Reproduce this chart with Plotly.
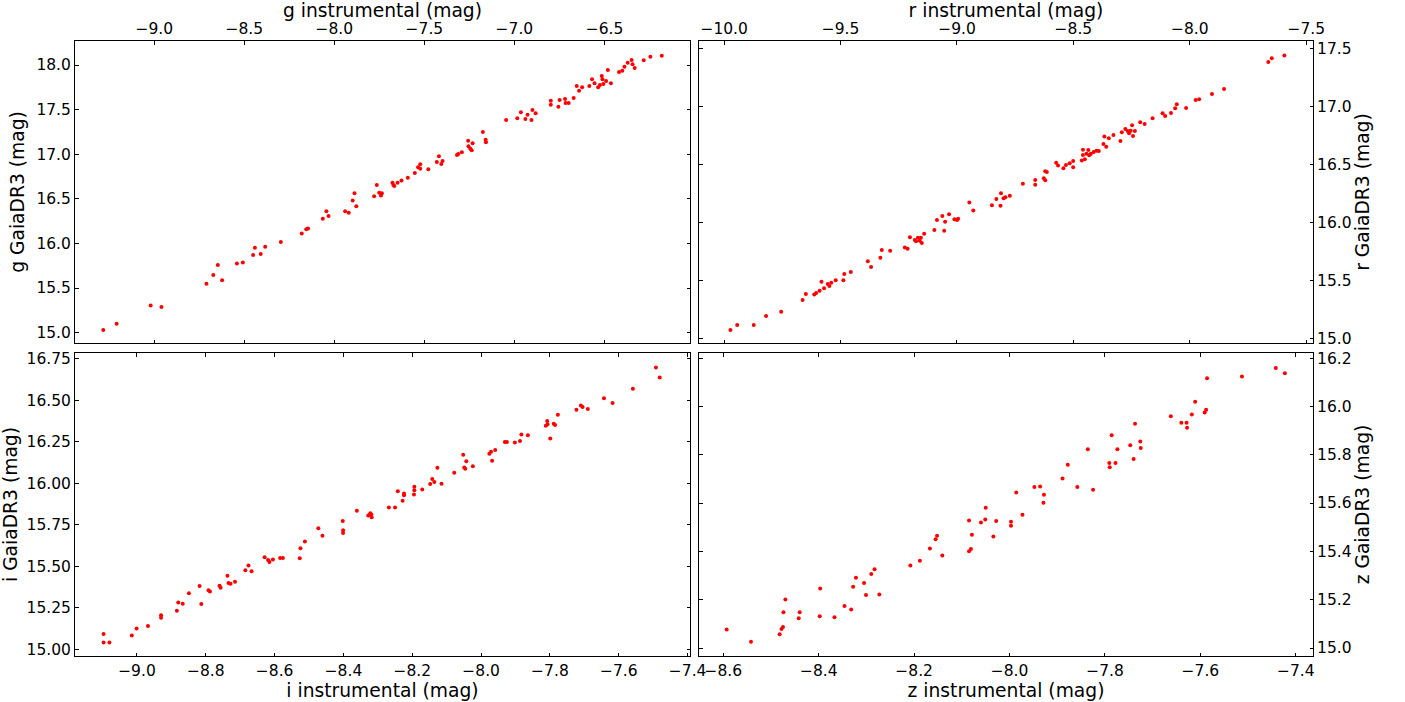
import plotly.graph_objects as go

# Photometric calibration: instrumental magnitudes vs Gaia DR3 synthetic magnitudes

g_inst = [-9.283, -9.209, -9.020, -8.960, -8.710, -8.672, -8.647, -8.623, -8.541, -8.508,
          -8.451, -8.441, -8.409, -8.384, -8.297, -8.181, -8.156, -8.146, -8.064, -8.044,
          -8.032, -7.940, -7.920, -7.898, -7.888, -7.878, -7.779, -7.764, -7.751, -7.741,
          -7.736, -7.677, -7.672, -7.667, -7.649, -7.627, -7.592, -7.553, -7.535, -7.523,
          -7.523, -7.478, -7.431, -7.419, -7.406, -7.399, -7.319, -7.312, -7.292, -7.257,
          -7.255, -7.245, -7.237, -7.232, -7.175, -7.160, -7.158, -7.046, -6.984, -6.964,
          -6.939, -6.927, -6.905, -6.900, -6.882, -6.798, -6.798, -6.756, -6.749, -6.719,
          -6.716, -6.699, -6.671, -6.654, -6.641, -6.624, -6.584, -6.569, -6.555, -6.535,
          -6.525, -6.515, -6.511, -6.506, -6.491, -6.481, -6.464, -6.419, -6.401, -6.389,
          -6.371, -6.349, -6.344, -6.332, -6.282, -6.245, -6.182]
g_gaia = [15.030, 15.101, 15.303, 15.288, 15.549, 15.647, 15.759, 15.587, 15.774, 15.785,
          15.871, 15.953, 15.882, 15.964, 16.016, 16.110, 16.158, 16.166, 16.278, 16.360,
          16.308, 16.360, 16.345, 16.480, 16.562, 16.416, 16.528, 16.655, 16.569, 16.536,
          16.562, 16.681, 16.655, 16.644, 16.681, 16.704, 16.737, 16.790, 16.853, 16.887,
          16.838, 16.831, 16.913, 16.976, 16.891, 16.924, 16.991, 17.003, 17.021, 17.152,
          17.089, 17.062, 17.044, 17.122, 17.249, 17.163, 17.133, 17.384, 17.402, 17.470,
          17.395, 17.443, 17.384, 17.496, 17.458, 17.555, 17.600, 17.533, 17.608, 17.619,
          17.574, 17.574, 17.630, 17.765, 17.712, 17.750, 17.765, 17.839, 17.795, 17.750,
          17.776, 17.877, 17.839, 17.787, 17.821, 17.944, 17.795, 17.922, 17.936, 17.981,
          18.026, 18.056, 18.007, 17.966, 18.052, 18.093, 18.105]

r_inst = [-9.973, -9.944, -9.873, -9.820, -9.755, -9.663, -9.649, -9.613, -9.605, -9.590,
          -9.582, -9.571, -9.555, -9.548, -9.540, -9.521, -9.488, -9.484, -9.456, -9.383,
          -9.369, -9.329, -9.323, -9.287, -9.224, -9.212, -9.202, -9.181, -9.176, -9.168,
          -9.160, -9.155, -9.151, -9.141, -9.097, -9.086, -9.063, -9.055, -9.051, -9.034,
          -9.011, -9.000, -8.995, -8.947, -8.930, -8.850, -8.831, -8.813, -8.811, -8.800,
          -8.792, -8.773, -8.717, -8.664, -8.664, -8.627, -8.621, -8.621, -8.614, -8.574,
          -8.566, -8.543, -8.532, -8.516, -8.501, -8.501, -8.464, -8.459, -8.459, -8.451,
          -8.444, -8.436, -8.432, -8.425, -8.413, -8.401, -8.391, -8.371, -8.367, -8.359,
          -8.348, -8.328, -8.298, -8.292, -8.277, -8.267, -8.261, -8.254, -8.248, -8.244,
          -8.236, -8.213, -8.194, -8.160, -8.117, -8.106, -8.081, -8.063, -8.056, -8.016,
          -7.975, -7.960, -7.905, -7.853, -7.663, -7.648, -7.594]
r_gaia = [15.072, 15.115, 15.115, 15.193, 15.230, 15.330, 15.382, 15.379, 15.391, 15.411,
          15.489, 15.431, 15.468, 15.451, 15.480, 15.500, 15.500, 15.555, 15.572, 15.664,
          15.615, 15.695, 15.761, 15.756, 15.784, 15.773, 15.871, 15.848, 15.836, 15.868,
          15.842, 15.868, 15.822, 15.902, 15.934, 16.020, 16.055, 15.928, 16.006, 16.069,
          16.026, 16.020, 16.032, 16.172, 16.103, 16.147, 16.201, 16.144, 16.250, 16.207,
          16.216, 16.230, 16.333, 16.365, 16.325, 16.379, 16.362, 16.440, 16.434, 16.514,
          16.489, 16.466, 16.494, 16.509, 16.474, 16.529, 16.534, 16.626, 16.580, 16.543,
          16.592, 16.624, 16.578, 16.592, 16.606, 16.618, 16.615, 16.675, 16.739, 16.652,
          16.724, 16.753, 16.701, 16.776, 16.805, 16.787, 16.767, 16.790, 16.836, 16.744,
          16.787, 16.862, 16.848, 16.897, 16.940, 16.917, 16.943, 16.983, 17.017, 16.986,
          17.055, 17.060, 17.106, 17.149, 17.382, 17.414, 17.437]

i_inst = [-9.097, -9.097, -9.080, -9.015, -9.001, -8.968, -8.930, -8.930, -8.884, -8.880,
          -8.867, -8.849, -8.818, -8.813, -8.792, -8.788, -8.760, -8.757, -8.737, -8.734,
          -8.728, -8.715, -8.685, -8.676, -8.667, -8.629, -8.619, -8.615, -8.605, -8.584,
          -8.576, -8.527, -8.525, -8.512, -8.473, -8.461, -8.402, -8.401, -8.401, -8.361,
          -8.328, -8.322, -8.318, -8.319, -8.268, -8.250, -8.242, -8.228, -8.224, -8.224,
          -8.195, -8.194, -8.194, -8.171, -8.148, -8.142, -8.136, -8.127, -8.115, -8.078,
          -8.052, -8.049, -8.046, -8.043, -8.024, -7.976, -7.971, -7.968, -7.959, -7.931,
          -7.925, -7.902, -7.887, -7.883, -7.864, -7.812, -7.808, -7.807, -7.799, -7.789,
          -7.785, -7.777, -7.723, -7.710, -7.705, -7.690, -7.643, -7.618, -7.559, -7.492,
          -7.481]
i_gaia = [15.092, 15.042, 15.042, 15.084, 15.125, 15.141, 15.205, 15.191, 15.233, 15.283,
          15.275, 15.338, 15.382, 15.273, 15.356, 15.348, 15.384, 15.372, 15.444, 15.400,
          15.396, 15.408, 15.477, 15.505, 15.471, 15.555, 15.539, 15.527, 15.541, 15.551,
          15.551, 15.549, 15.609, 15.650, 15.730, 15.684, 15.774, 15.718, 15.702, 15.835,
          15.807, 15.821, 15.796, 15.813, 15.855, 15.855, 15.953, 15.895, 15.939, 15.929,
          15.933, 15.980, 15.959, 15.963, 15.996, 16.026, 16.008, 16.094, 15.998, 16.064,
          16.173, 16.096, 16.088, 16.134, 16.104, 16.179, 16.191, 16.136, 16.201, 16.249,
          16.249, 16.247, 16.255, 16.295, 16.291, 16.348, 16.376, 16.356, 16.271, 16.360,
          16.352, 16.414, 16.444, 16.470, 16.460, 16.448, 16.513, 16.484, 16.571, 16.698,
          16.639]

z_inst = [-8.593, -8.542, -8.482, -8.478, -8.475, -8.474, -8.470, -8.442, -8.440, -8.398,
          -8.397, -8.367, -8.346, -8.332, -8.328, -8.322, -8.305, -8.301, -8.290, -8.283,
          -8.273, -8.208, -8.188, -8.167, -8.155, -8.152, -8.141, -8.085, -8.085, -8.081,
          -8.079, -8.060, -8.051, -8.050, -8.034, -8.028, -7.997, -7.997, -7.973, -7.986,
          -7.948, -7.936, -7.928, -7.929, -7.889, -7.878, -7.858, -7.836, -7.825, -7.791,
          -7.790, -7.786, -7.778, -7.774, -7.747, -7.740, -7.737, -7.726, -7.725, -7.662,
          -7.640, -7.629, -7.628, -7.618, -7.611, -7.591, -7.588, -7.586, -7.513, -7.442,
          -7.423]
z_gaia = [15.077, 15.026, 15.057, 15.079, 15.087, 15.148, 15.201, 15.123, 15.148, 15.131,
          15.246, 15.127, 15.174, 15.159, 15.254, 15.291, 15.269, 15.219, 15.306, 15.326,
          15.222, 15.342, 15.361, 15.412, 15.450, 15.465, 15.383, 15.528, 15.401, 15.410,
          15.469, 15.520, 15.532, 15.581, 15.462, 15.526, 15.523, 15.506, 15.552, 15.644,
          15.666, 15.668, 15.634, 15.601, 15.702, 15.759, 15.666, 15.823, 15.655, 15.766,
          15.748, 15.881, 15.766, 15.823, 15.839, 15.782, 15.928, 15.855, 15.828, 15.959,
          15.932, 15.932, 15.912, 15.966, 16.019, 15.975, 15.986, 16.117, 16.124, 16.159,
          16.137]

W, H = 1405, 702
FONT = "DejaVu Sans"
TICK_SIZE = 15.5
TITLE_SIZE = 18.7
INK = "#000000"


def px_x(a, b):
    return [a / W, b / W]


def px_y(top, bottom):
    return [1 - bottom / H, 1 - top / H]


def axis(**kw):
    base = dict(
        showline=True, linecolor=INK, linewidth=1, mirror="ticks",
        ticks="inside", ticklen=3.5, tickwidth=1, tickcolor=INK,
        showgrid=False, zeroline=False,
        tickfont=dict(family=FONT, size=TICK_SIZE, color=INK),
        title_font=dict(family=FONT, size=TITLE_SIZE, color=INK),
        automargin=False,
    )
    base.update(kw)
    return base


fig = go.Figure()
panels = [(g_inst, g_gaia, "x", "y"), (r_inst, r_gaia, "x2", "y2"),
          (i_inst, i_gaia, "x3", "y3"), (z_inst, z_gaia, "x4", "y4")]
for xs, ys, xa, ya in panels:
    fig.add_trace(go.Scatter(
        x=xs, y=ys, mode="markers", xaxis=xa, yaxis=ya,
        marker=dict(color="#ff0000", size=4, line=dict(width=0)),
        showlegend=False, hoverinfo="x+y",
    ))

left_dom = px_x(75, 690)
right_dom = px_x(699, 1313)
top_dom = px_y(41, 343)
bot_dom = px_y(353, 656)

fig.update_layout(
    width=W, height=H,
    margin=dict(l=0, r=0, t=0, b=0),
    paper_bgcolor="white", plot_bgcolor="white",
    font=dict(family=FONT, color=INK),
    xaxis=axis(domain=left_dom, anchor="y", side="top", range=[-9.44, -6.025],
               tick0=-9.0, dtick=0.5, tickformat=".1f",
               title=dict(text="g instrumental (mag)", standoff=0)),
    yaxis=axis(domain=top_dom, anchor="x", side="left", range=[14.884, 18.269],
               tick0=15.0, dtick=0.5, tickformat=".1f",
               title=dict(text="g GaiaDR3 (mag)", standoff=6)),
    xaxis2=axis(domain=right_dom, anchor="y2", side="top", range=[-10.108, -7.471],
                tick0=-10.0, dtick=0.5, tickformat=".1f",
                title=dict(text="r instrumental (mag)", standoff=0)),
    yaxis2=axis(domain=top_dom, anchor="x2", side="right", range=[14.96, 17.563],
                tick0=15.0, dtick=0.5, tickformat=".1f",
                title=dict(text="r GaiaDR3 (mag)", standoff=5)),
    xaxis3=axis(domain=left_dom, anchor="y3", side="bottom", range=[-9.18, -7.393],
                tick0=-9.0, dtick=0.2, tickformat=".1f",
                title=dict(text="i instrumental (mag)", standoff=3)),
    yaxis3=axis(domain=bot_dom, anchor="x3", side="left", range=[14.960, 16.786],
                tick0=15.0, dtick=0.25, tickformat=".2f",
                title=dict(text="i GaiaDR3 (mag)", standoff=6)),
    xaxis4=axis(domain=right_dom, anchor="y4", side="bottom", range=[-8.651, -7.364],
                tick0=-8.6, dtick=0.2, tickformat=".1f",
                title=dict(text="z instrumental (mag)", standoff=3)),
    yaxis4=axis(domain=bot_dom, anchor="x4", side="right", range=[14.967, 16.221],
                tick0=15.0, dtick=0.2, tickformat=".1f",
                title=dict(text="z GaiaDR3 (mag)", standoff=5)),
)

fig.write_html("out.html")
